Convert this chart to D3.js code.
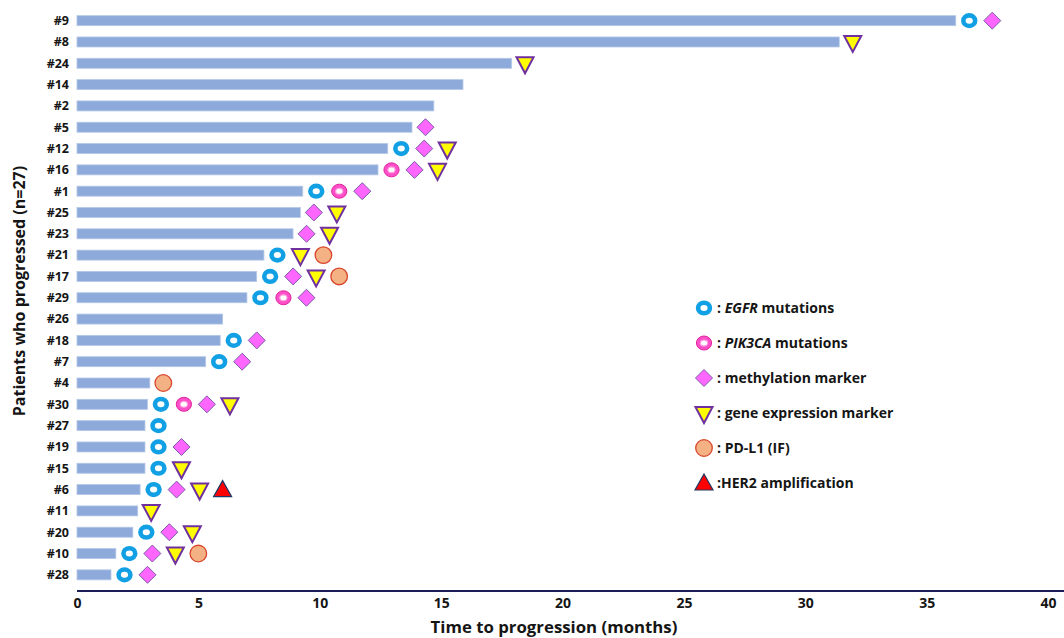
<!DOCTYPE html>
<html>
<head>
<meta charset="utf-8">
<script src="https://cdn.jsdelivr.net/npm/d3@7"></script>
<style>
  body { margin: 0; background: #fff; }
  text { font-family: "Open Sans", Lato, sans-serif; font-weight: bold; fill: #151515; }
</style>
</head>
<body>
<div id="chart"></div>
<script>
var svgWidth = 1064;
var svgHeight = 638;

// patients, top to bottom
var patients = ["#9", "#8", "#24", "#14", "#2", "#5", "#12", "#16", "#1", "#25", "#23", "#21", "#17", "#29",
    "#26", "#18", "#7", "#4", "#30", "#27", "#19", "#15", "#6", "#11", "#20", "#10", "#28"];

// time to progression (months)
var ttp = [36.2, 31.4, 17.9, 15.9, 14.7, 13.8, 12.8, 12.4, 9.3, 9.2, 8.9, 7.7, 7.4, 7.0,
    6.0, 5.9, 5.3, 3.0, 2.9, 2.8, 2.8, 2.8, 2.6, 2.5, 2.3, 1.6, 1.4];

// markers detected per patient, in the order shown after the bar
var markers = [
    ["egfr", "meth"],
    ["gene"],
    ["gene"],
    [],
    [],
    ["meth"],
    ["egfr", "meth", "gene"],
    ["pik3ca", "meth", "gene"],
    ["egfr", "pik3ca", "meth"],
    ["meth", "gene"],
    ["meth", "gene"],
    ["egfr", "gene", "pdl1"],
    ["egfr", "meth", "gene", "pdl1"],
    ["egfr", "pik3ca", "meth"],
    [],
    ["egfr", "meth"],
    ["egfr", "meth"],
    ["pdl1"],
    ["egfr", "pik3ca", "meth", "gene"],
    ["egfr"],
    ["egfr", "meth"],
    ["egfr", "gene"],
    ["egfr", "meth", "gene", "her2"],
    ["gene"],
    ["egfr", "meth", "gene"],
    ["egfr", "meth", "gene", "pdl1"],
    ["egfr", "meth"]
];

var xTicks = [0, 5, 10, 15, 20, 25, 30, 35, 40];

var legendTypes = ["egfr", "pik3ca", "meth", "gene", "pdl1", "her2"];
var legendLabels = [
    [": ", "EGFR", " mutations"],
    [": ", "PIK3CA", " mutations"],
    [": methylation marker"],
    [": gene expression marker"],
    [": PD-L1 (IF)"],
    [":HER2 amplification"]
];

var rows = patients.map(function(p, i) { return {patient: p, ttp: ttp[i], markers: markers[i]}; });

var svg = d3.select("#chart").append("svg")
    .attr("width", svgWidth)
    .attr("height", svgHeight);

var x = d3.scaleLinear().domain([0, 40]).range([77, 1048]);
var y = d3.scaleBand().domain(patients).range([10, 585.5]);

function drawMarker(g, type) {
    switch (type) {
    case "egfr":
        g.append("ellipse").attr("rx", 5.9).attr("ry", 5.3)
            .attr("fill", "#fff").attr("stroke", "#12a0e4").attr("stroke-width", 4.6);
        break;
    case "pik3ca":
        g.append("ellipse").attr("rx", 7.6).attr("ry", 7)
            .attr("fill", "#ff4fc8").attr("stroke", "#e0249e").attr("stroke-width", 1);
        g.append("ellipse").attr("rx", 3.6).attr("ry", 2.9)
            .attr("fill", "#fff").attr("stroke", "#ff9fe0").attr("stroke-width", 1.2);
        break;
    case "meth":
        g.append("path").attr("d", "M0,-8.5L8.5,0L0,8.5L-8.5,0Z")
            .attr("fill", "#ff66ff").attr("stroke", "#7b5ea7").attr("stroke-width", 1);
        break;
    case "gene":
        g.append("path").attr("d", "M-8.5,-6L8.5,-6L0,10Z")
            .attr("fill", "#ffff00").attr("stroke", "#7030a0").attr("stroke-width", 2)
            .attr("stroke-linejoin", "miter");
        break;
    case "pdl1":
        g.append("circle").attr("r", 8.3)
            .attr("fill", "#f4b183").attr("stroke", "#d9452b").attr("stroke-width", 1.3);
        break;
    default:
        g.append("path").attr("d", "M0,-9L9,7L-9,7Z")
            .attr("fill", "#ff0000").attr("stroke", "#203864").attr("stroke-width", 1.2);
        break;
    }
}

// bars
svg.append("g").selectAll("rect")
    .data(rows)
    .enter()
    .append("rect")
    .attr("x", x(0))
    .attr("y", d => y(d.patient) + y.bandwidth() / 2 - 5)
    .attr("width", d => x(d.ttp) - x(0))
    .attr("height", 10)
    .attr("fill", "#8eaadb")
    .attr("stroke", "#b4c7e7")
    .attr("stroke-width", 0.8);

// markers follow each bar
var markerGap = 23;
var markerStart = 13.5;
rows.forEach(function(d) {
    d.markers.forEach(function(m, j) {
        var g = svg.append("g")
            .attr("transform", `translate(${x(d.ttp) + markerStart + j * markerGap}, ${y(d.patient) + y.bandwidth() / 2})`);
        drawMarker(g, m);
    });
});

// patient labels
svg.append("g").selectAll("text")
    .data(rows)
    .enter()
    .append("text")
    .attr("x", 69)
    .attr("y", d => y(d.patient) + y.bandwidth() / 2)
    .attr("dy", "0.35em")
    .attr("text-anchor", "end")
    .attr("font-size", "12.5px")
    .text(d => d.patient);

// x axis
var xAxis = svg.append("g")
    .attr("transform", "translate(0, 591)")
    .call(d3.axisBottom(x).tickValues(xTicks).tickSize(0).tickPadding(7).tickFormat(d3.format("d")));
xAxis.select(".domain")
    .attr("d", `M${x(0)},0H${svgWidth}`)
    .attr("stroke", "#1c1c5a")
    .attr("stroke-width", 2.2);
xAxis.selectAll("text")
    .attr("font-size", "14px")
    .attr("font-family", "'Open Sans', sans-serif")
    .attr("fill", "#151515");

svg.append("text")
    .attr("x", 554)
    .attr("y", 633)
    .attr("text-anchor", "middle")
    .attr("font-size", "16.8px")
    .text("Time to progression (months)");

svg.append("text")
    .attr("transform", "translate(25, 291) rotate(-90)")
    .attr("text-anchor", "middle")
    .attr("font-size", "16px")
    .text("Patients who progressed (n=27)");

// legend
var legend = svg.append("g");
legendTypes.forEach(function(t, i) {
    var ly = 308 + i * 35;
    var g = legend.append("g").attr("transform", `translate(704, ${ly})`);
    drawMarker(g, t);
    var txt = legend.append("text")
        .attr("x", 717)
        .attr("y", ly)
        .attr("dy", "0.35em")
        .attr("font-size", "14px");
    legendLabels[i].forEach(function(part, k) {
        txt.append("tspan")
            .attr("font-style", (legendLabels[i].length === 3 && k === 1) ? "italic" : "normal")
            .text(part);
    });
});
</script>
</body>
</html>
